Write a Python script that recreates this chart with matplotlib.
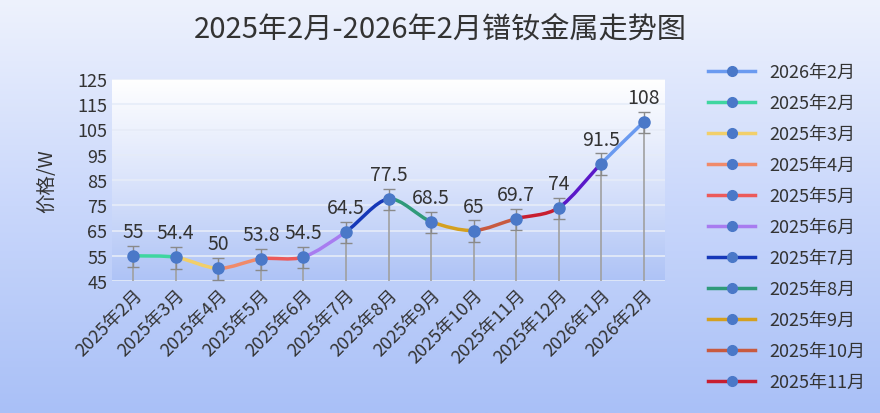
import matplotlib
matplotlib.use("Agg")
import matplotlib.pyplot as plt
import numpy as np
from matplotlib.path import Path
from matplotlib.patches import PathPatch
from matplotlib.lines import Line2D
from matplotlib.colors import LinearSegmentedColormap

plt.rcParams['font.family'] = ['Noto Sans CJK SC', 'DejaVu Sans']

months = ["2025年2月","2025年3月","2025年4月","2025年5月","2025年6月","2025年7月",
          "2025年8月","2025年9月","2025年10月","2025年11月","2025年12月","2026年1月","2026年2月"]
prices = [55, 54.4, 50, 53.8, 54.5, 64.5, 77.5, 68.5, 65, 69.7, 74, 91.5, 108]
labels = ["55","54.4","50","53.8","54.5","64.5","77.5","68.5","65","69.7","74","91.5","108"]
err_up = 4.0
err_down = 4.5
seg_colors = ["#3fd6a0","#f2cf6a","#f08a6a","#ec5a5a","#a87cf0","#1638b8",
              "#2f9a7a","#d4a020","#c85a40","#c81e30","#5a18c8","#6a9af0"]
legend_names = ["2026年2月","2025年2月","2025年3月","2025年4月","2025年5月","2025年6月",
                "2025年7月","2025年8月","2025年9月","2025年10月","2025年11月"]
legend_colors = ["#6a9af0","#3fd6a0","#f2cf6a","#f08a6a","#ec5a5a","#a87cf0",
                 "#1638b8","#2f9a7a","#d4a020","#c85a40","#c81e30"]

W, H = 880, 414
fig = plt.figure(figsize=(W/100, H/100), dpi=100)
bg = fig.add_axes([0, 0, 1, 1], zorder=-10)
grad = np.linspace(0, 1, 256)[:, None]
cmap = LinearSegmentedColormap.from_list("bg", ["#eef2fd", "#c9d7fb", "#a9c0f7"])
bg.imshow(grad, aspect='auto', cmap=cmap, extent=[0, 1, 0, 1], origin='upper')
bg.axis('off')

ax = fig.add_axes([112/W, 1-282/H, 553/W, 202/H])
ax.set_xlim(-0.5, len(months)-0.5)
ax.set_ylim(45, 125)
cmap2 = LinearSegmentedColormap.from_list("pl", ["#ffffff", "#dbe4fb", "#aec3f6"])
ax.imshow(grad, aspect='auto', cmap=cmap2, extent=[-0.5, len(months)-0.5, 45, 125],
          origin='upper', zorder=0)
ax.set_yticks(np.arange(45, 126, 10))
ax.grid(axis='y', color='#e6ecf8', lw=1.2, zorder=1)
for s in ax.spines.values():
    s.set_visible(False)
ax.tick_params(length=0, labelsize=13, colors='#333333')
ax.set_xticks(range(len(months)))
ax.set_xticklabels(months, rotation=45, ha='right', rotation_mode='anchor')
ax.set_ylabel("价格/W", fontsize=14, color='#333333', labelpad=14)

x = np.arange(len(months))
for xi, yi in zip(x, prices):
    ax.plot([xi, xi], [45, yi], color='#a0a0a0', lw=1.2, zorder=2)
ax.errorbar(x, prices, yerr=[[err_down]*len(x), [err_up]*len(x)], fmt='none',
            ecolor='#8a8a8a', capsize=4, lw=1, zorder=2)
slopes = np.gradient(np.array(prices, float))
for i in range(len(x)-1):
    x0, y0, x1, y1 = x[i], prices[i], x[i+1], prices[i+1]
    t = 0.3
    p = Path([(x0, y0), (x0+t, y0+slopes[i]*t), (x1-t, y1-slopes[i+1]*t), (x1, y1)],
             [Path.MOVETO, Path.CURVE4, Path.CURVE4, Path.CURVE4])
    ax.add_patch(PathPatch(p, fill=False, edgecolor=seg_colors[i], lw=2.5, zorder=3))
ax.plot(x, prices, 'o', color='#4a78c8', ms=8, zorder=4)
for xi, yi, lb in zip(x, prices, labels):
    ax.text(xi, yi+err_up+1.5, lb, ha='center', va='bottom', fontsize=14, color='#333333', zorder=5)

fig.text(0.5, 1-30/H, "2025年2月-2026年2月镨钕金属走势图", ha='center', va='center',
         fontsize=21, color='#333333')

handles = [Line2D([0], [0], color=c, lw=2.5, marker='o', ms=7, markerfacecolor='#4a78c8',
                  markeredgecolor='#4a78c8') for c in legend_colors]
fig.legend(handles, legend_names, loc='upper left', bbox_to_anchor=(692/W, 1-48/H),
           frameon=False, fontsize=13, labelspacing=0.72, handlelength=2.6,
           labelcolor='#333333')

fig.savefig("out.png", dpi=100)
